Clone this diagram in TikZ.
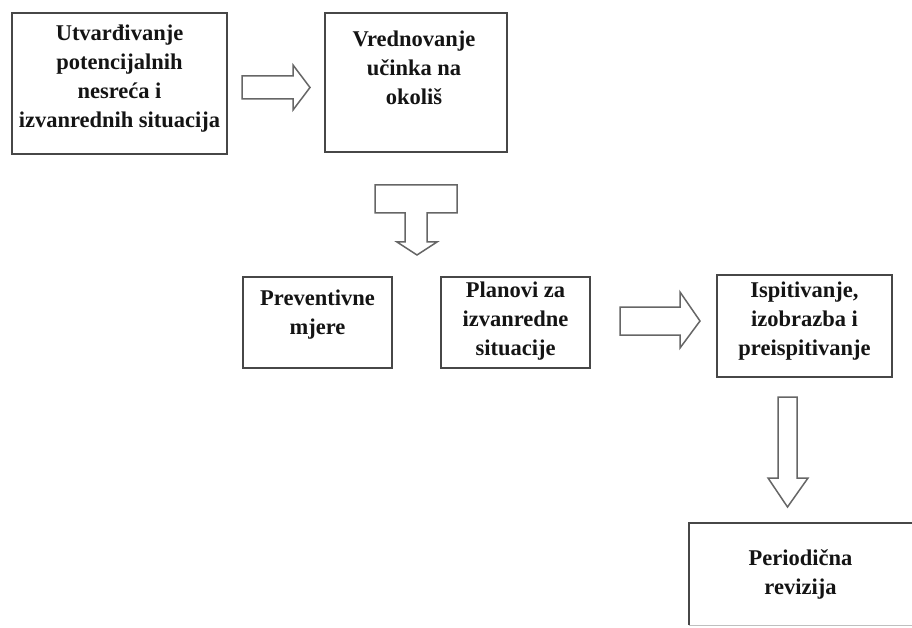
\documentclass[tikz,border=0pt]{standalone}
\usepackage{fontspec}
\setmainfont{Liberation Serif}
\begin{document}
\begin{tikzpicture}[x=1pt,y=-1pt,
  boxst/.style={draw=black!72, line width=1.6pt, fill=white, inner sep=0pt},
  txt/.style={font=\fontsize{22.5}{29}\selectfont\bfseries, align=center, inner sep=0pt, text=black!92},
  blockarrow/.style={draw=black!60, line width=1.5pt, fill=white, line join=miter}]
\useasboundingbox (0,0) rectangle (912,628);
\fill[white] (0,0) rectangle (912,628);
% boxes
\node[boxst, minimum width=215pt, minimum height=141pt] (b1) at (119.5,83.5) {};
\node[boxst, minimum width=182pt, minimum height=139pt] (b2) at (416,82.5) {};
\node[boxst, minimum width=149pt, minimum height=91pt] (b3) at (317.5,322.5) {};
\node[boxst, minimum width=149pt, minimum height=91pt] (b4) at (515.5,322.5) {};
\node[boxst, minimum width=175pt, minimum height=102pt] (b5) at (804.5,326) {};
\node[inner sep=0pt, minimum width=227pt, minimum height=102pt] (b6) at (802.5,574) {};
\draw[black!72, line width=1.6pt] (b6.south west) -- (b6.north west) -- (b6.north east);
\draw[black!25, line width=1.2pt] (b6.south west) -- (b6.south east);
% texts
\node[txt] (t1) at (119.5,79) {Utvarđivanje\\potencijalnih\\nesreća i\\izvanrednih situacija};
\node[txt] (t2) at (414,67.5) {Vrednovanje\\učinka na\\okoliš};
\node[txt] (t3) at (317.5,314.5) {Preventivne\\mjere};
\node[txt] (t4) at (515.5,321.5) {Planovi za\\izvanredne\\situacije};
\node[txt] (t5) at (804.5,321.5) {Ispitivanje,\\izobrazba i\\preispitivanje};
\node[txt] (t6) at (800.5,574.5) {Periodična\\revizija};
% block arrows
\draw[blockarrow] (242,76) -- (293,76) -- (293,65) -- (310,87.5) -- (293,110) -- (293,99) -- (242,99) -- cycle;
\draw[blockarrow] (620,307) -- (680,307) -- (680,292) -- (700,321) -- (680,348) -- (680,335) -- (620,335) -- cycle;
\draw[blockarrow] (778,397) -- (797,397) -- (797,478) -- (808,478) -- (787.5,507) -- (768,478) -- (778,478) -- cycle;
\draw[blockarrow] (375,185) -- (457,185) -- (457,213) -- (427,213) -- (427,242) -- (437,242) -- (417,255) -- (397,242) -- (405,242) -- (405,213) -- (375,213) -- cycle;
\end{tikzpicture}
\end{document}
